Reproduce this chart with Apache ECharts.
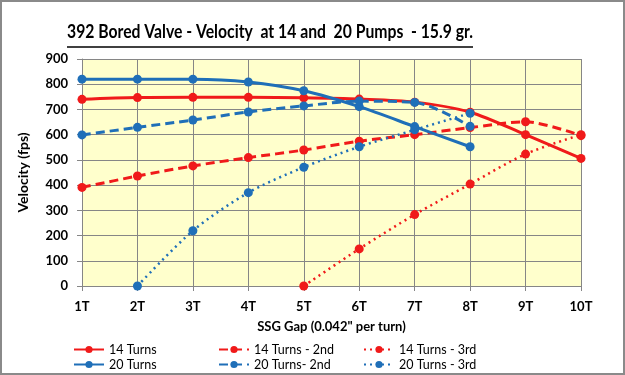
<!DOCTYPE html>
<html lang="en">

<head>
  <meta charset="UTF-8">
  <title>392 Bored Valve - Velocity</title>
  <style>
    html, body { margin: 0; padding: 0; background: #fff; }
    #chart { width: 625px; height: 375px; }
  </style>
  <script src="https://cdn.jsdelivr.net/npm/echarts@6/dist/echarts.min.js"></script>
</head>

<body>
  <div id="chart"></div>
  <script>
    // chart data
    const gaps = ['1T', '2T', '3T', '4T', '5T', '6T', '7T', '8T', '9T', '10T'];
    const turns14 = [740, 747, 748, 748, 746, 741, 729, 689, 600, 506];
    const turns14Second = [391, 436, 476, 509, 539, 574, 600, 628, 651, 596];
    const turns14Third = [null, null, null, null, 0, 147, 283, 404, 523, 600];
    const turns20 = [820, 820, 820, 809, 774, 711, 632, 552, null, null];
    const turns20Second = [599, 629, 658, 690, 714, 733, 728, 633, null, null];
    const turns20Third = [null, 0, 219, 370, 471, 552, 619, 685, null, null];
    const velocityTicks = [0, 100, 200, 300, 400, 500, 600, 700, 800, 900];

    const titleText = '392 Bored Valve - Velocity  at 14 and  20 Pumps  - 15.9 gr.';
    const red = '#f01a1a';
    const blue = '#1f6fb8';
    const font = 'Lato, "Open Sans", sans-serif';

    // original title is a narrow font, ~406px wide: squeeze Lato to that width
    const titleFont = 'bold 18px Lato';
    const ctx = document.createElement('canvas').getContext('2d');
    ctx.font = titleFont;
    const titleScale = 406 / ctx.measureText(titleText).width;
    const titleX = 270;

    function makeSeries(name, data, color, type) {
      let lineType = 'solid';
      let width = 3;
      if (type === 'dash') lineType = [9, 5];
      if (type === 'dot') { lineType = [2, 4]; width = 2.5; }
      return {
        name: name,
        type: 'line',
        data: data,
        smooth: 0.3,
        symbol: 'circle',
        symbolSize: 9,
        showAllSymbol: true,
        connectNulls: false,
        itemStyle: { color: color },
        lineStyle: { color: color, width: width, type: lineType }
      };
    }

    function legendAt(left, names) {
      return {
        orient: 'vertical',
        left: left,
        top: 342,
        padding: 0,
        itemGap: 0,
        itemWidth: 30,
        itemHeight: 9,
        data: names,
        textStyle: { fontFamily: font, fontSize: 12.5, lineHeight: 15, color: '#000' }
      };
    }

    let myChart = echarts.init(document.getElementById('chart'));

    let option = {
      animation: false,
      backgroundColor: '#fff',
      graphic: [
        {
          type: 'rect',
          shape: { x: 1, y: 1, width: 623, height: 373 },
          style: { fill: 'none', stroke: '#8a8a8a', lineWidth: 2 },
          silent: true
        },
        {
          type: 'text',
          x: titleX,
          y: 32,
          scaleX: titleScale,
          style: {
            text: titleText,
            font: titleFont,
            fill: '#000',
            align: 'center',
            verticalAlign: 'middle'
          },
          silent: true
        },
        {
          type: 'line',
          shape: { x1: titleX - 203, y1: 47, x2: titleX + 203, y2: 47 },
          style: { stroke: '#000', lineWidth: 1.5 },
          silent: true
        }
      ],
      legend: [
        legendAt(73, ['14 Turns', '20 Turns']),
        legendAt(218, ['14 Turns - 2nd', '20 Turns- 2nd']),
        legendAt(363, ['14 Turns - 3rd', '20 Turns - 3rd'])
      ],
      grid: {
        left: 82,
        right: 44,
        top: 59,
        bottom: 89,
        show: true,
        backgroundColor: '#ffffcc',
        borderWidth: 0
      },
      xAxis: {
        type: 'category',
        data: gaps,
        boundaryGap: false,
        name: 'SSG Gap (0.042" per turn)',
        nameLocation: 'middle',
        nameGap: 34,
        nameTextStyle: { fontFamily: font, fontSize: 13, fontWeight: 'bold', color: '#000' },
        axisLine: { lineStyle: { color: '#868686', width: 1 } },
        axisTick: { show: true, length: 5, lineStyle: { color: '#868686' } },
        axisLabel: { fontFamily: font, fontSize: 13, fontWeight: 'bold', color: '#000', margin: 14 },
        splitLine: { show: true, lineStyle: { color: '#868686', width: 1 } }
      },
      yAxis: {
        type: 'value',
        min: velocityTicks[0],
        max: velocityTicks[velocityTicks.length - 1],
        interval: 100,
        name: 'Velocity (fps)',
        nameLocation: 'middle',
        nameGap: 52,
        nameRotate: 90,
        nameTextStyle: { fontFamily: font, fontSize: 14, fontWeight: 'bold', color: '#000' },
        axisLine: { show: true, lineStyle: { color: '#868686', width: 1 } },
        axisTick: { show: true, length: 5, lineStyle: { color: '#868686' } },
        axisLabel: { fontFamily: font, fontSize: 13, fontWeight: 'bold', color: '#000', margin: 14 },
        splitLine: { show: true, lineStyle: { color: '#868686', width: 1 } }
      },
      series: [
        makeSeries('14 Turns', turns14, red, 'solid'),
        makeSeries('14 Turns - 2nd', turns14Second, red, 'dash'),
        makeSeries('14 Turns - 3rd', turns14Third, red, 'dot'),
        makeSeries('20 Turns', turns20, blue, 'solid'),
        makeSeries('20 Turns- 2nd', turns20Second, blue, 'dash'),
        makeSeries('20 Turns - 3rd', turns20Third, blue, 'dot')
      ]
    };

    myChart.setOption(option);

    window.onresize = function () {
      myChart.resize();
    }
  </script>

</body>

</html>
